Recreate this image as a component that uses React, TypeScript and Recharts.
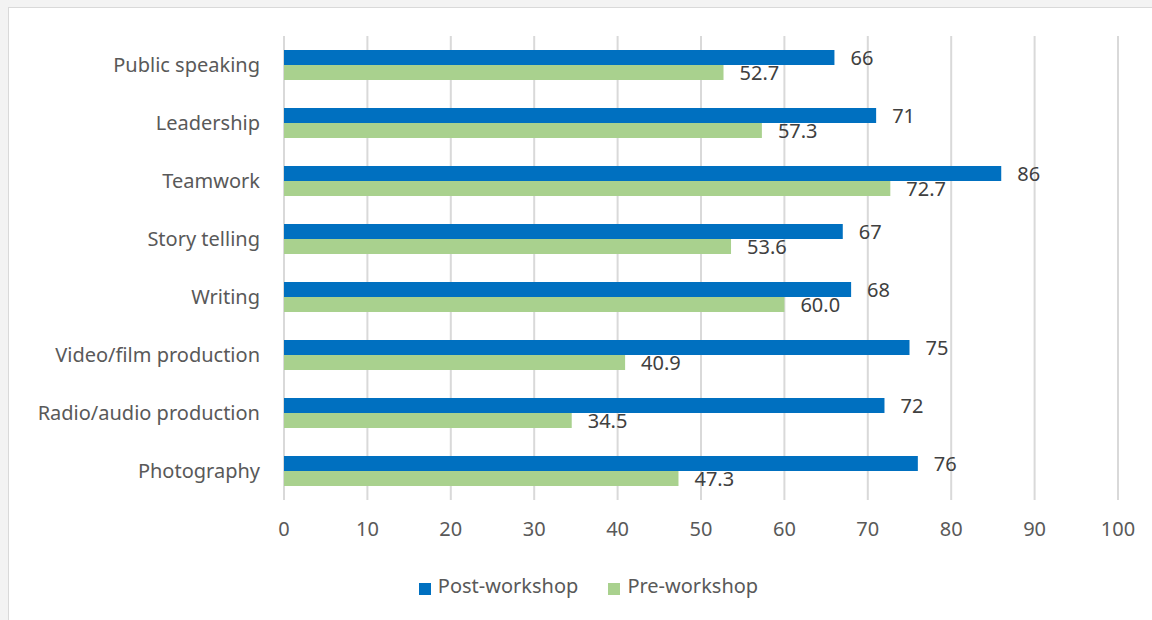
import { BarChart, Bar, XAxis, YAxis, CartesianGrid, Legend, LabelList } from 'recharts'

const skills = ['Public speaking', 'Leadership', 'Teamwork', 'Story telling', 'Writing', 'Video/film production', 'Radio/audio production', 'Photography']
const postWorkshop = [66, 71, 86, 67, 68, 75, 72, 76]
const preWorkshop = [52.7, 57.3, 72.7, 53.6, 60.0, 40.9, 34.5, 47.3]
const xTicks = [0, 10, 20, 30, 40, 50, 60, 70, 80, 90, 100]

const data = skills.map((s, i) => ({ skill: s, post: postWorkshop[i], pre: preWorkshop[i] }))

const FONT = '"Noto Sans", sans-serif'
const BLUE = '#0070c0'
const GREEN = '#a9d18e'

export default function App() {
  return (
    <div style={{ position: 'fixed', left: 0, top: 0, width: 1152, height: 620, background: '#f3f3f3', fontFamily: FONT }}>
      <div style={{ position: 'absolute', left: 8, top: 7, width: 1150, height: 620, background: '#fff', border: '1px solid #d9d9d9', boxSizing: 'border-box' }}>
        <BarChart
          width={1143}
          height={612}
          data={data}
          layout="vertical"
          barSize={15}
          barGap={0}
          margin={{ top: 28, right: 34, bottom: 4, left: 0 }}
        >
          <CartesianGrid horizontal={false} stroke="#d9d9d9" strokeWidth={2} />
          <XAxis
            type="number"
            domain={[0, 100]}
            ticks={xTicks}
            axisLine={false}
            tickLine={false}
            tickSize={0}
            tickMargin={22}
            height={72}
            tick={{ fill: '#595959', fontSize: 20, fontFamily: FONT }}
          />
          <YAxis
            type="category"
            dataKey="skill"
            axisLine={false}
            tickLine={false}
            tickSize={0}
            tickMargin={24}
            width={275}
            tick={{ fill: '#595959', fontSize: 20, fontFamily: FONT }}
          />
          <Legend
            verticalAlign="bottom"
            height={44}
            iconType="square"
            iconSize={12}
            wrapperStyle={{ paddingLeft: 80, boxSizing: 'border-box' }}
            formatter={(v: string) => <span style={{ color: '#595959', fontSize: 20, fontFamily: FONT, marginLeft: 3, marginRight: 20 }}>{v}</span>}
          />
          <Bar dataKey="post" name="Post-workshop" fill={BLUE} isAnimationActive={false}>
            <LabelList dataKey="post" position="right" offset={16} fill="#404040" fontSize={20} fontFamily={FONT} />
          </Bar>
          <Bar dataKey="pre" name="Pre-workshop" fill={GREEN} isAnimationActive={false}>
            <LabelList dataKey="pre" position="right" offset={16} fill="#404040" fontSize={20} fontFamily={FONT} formatter={(v: number) => v.toFixed(1)} />
          </Bar>
        </BarChart>
      </div>
    </div>
  )
}
